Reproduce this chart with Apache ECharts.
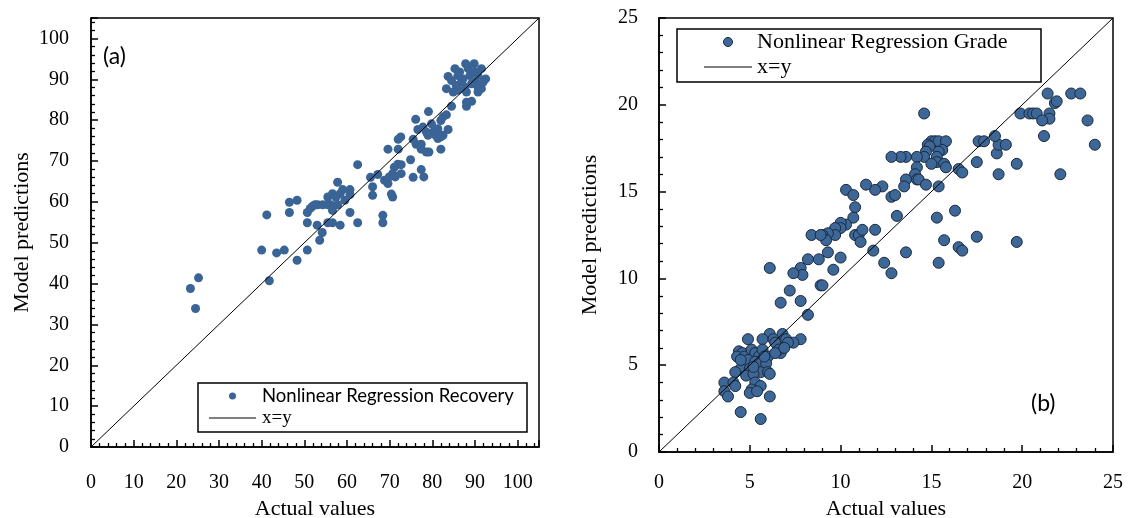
<!DOCTYPE html>
<html>
<head>
<meta charset="utf-8">
<script src="https://cdn.jsdelivr.net/npm/echarts@6/dist/echarts.min.js"></script>
<style>html,body{margin:0;padding:0;background:#fff;}#c{width:1129px;height:518px;}</style>
</head>
<body>
<div id="c"></div>
<script>
// ---- Data: panel (a) Recovery ----
const recoveryActual = [23.3,25.2,24.5,41.8,40.0,43.5,45.3,50.7,48.3,41.2,46.5,48.3,46.5,50.7,50.7,53.0,53.6,54.2,55.5,56.6,58.4,62.5,60.7,51.4,51.9,52.5,53.1,54.3,55.5,56.2,56.6,57.8,55.5,56.6,57.4,57.8,59.0,60.7,60.7,59.5,58.4,62.5,65.5,66.0,66.0,67.2,68.4,68.4,68.8,69.6,70.7,70.4,69.6,72.0,72.0,72.6,71.1,71.9,72.7,72.7,70.7,71.3,69.9,74.9,75.5,75.5,76.1,76.2,77.4,77.4,77.4,78.0,78.6,79.2,79.1,76.6,77.8,78.6,79.8,80.2,80.8,81.3,82.0,82.5,82.0,82.0,82.5,83.3,83.7,84.5,79.0,81.3,88.0,88.0,89.2,83.3,83.7,85.3,86.0,84.9,86.0,86.8,87.8,89.8,88.8,90.0,90.7,91.5,91.5,92.5,90.7,89.2,88.0,87.2,84.5,85.6,88.4,90.0,91.9,90.7,86.4,87.6];
const recoveryPredicted = [38.8,41.4,33.9,40.7,48.2,47.5,48.2,48.2,45.7,56.8,59.9,60.4,57.4,57.4,54.9,54.3,50.6,52.5,54.9,54.9,54.3,54.9,57.4,58.4,58.9,59.3,59.3,59.3,59.3,59.3,57.9,59.3,61.2,62.0,61.2,64.8,63.0,63.0,61.8,60.4,62.0,69.1,66.0,63.7,61.6,66.7,56.7,54.9,65.3,64.5,61.2,61.9,72.9,72.9,75.3,75.9,68.5,69.2,69.1,66.9,66.9,66.1,66.1,70.3,75.3,66.0,80.2,74.1,74.1,72.9,67.9,66.1,72.2,72.2,82.1,77.7,78.3,77.1,79.1,77.1,76.3,77.9,75.9,76.3,72.9,79.9,80.8,81.3,77.7,83.4,76.3,75.5,83.4,84.4,84.6,87.7,90.7,92.6,90.9,86.9,87.3,89.3,93.8,93.8,90.9,89.3,88.1,87.7,92.6,90.1,90.9,88.9,86.9,90.1,89.7,88.5,92.6,91.8,89.3,86.9,91.8,88.1];
// ---- Data: panel (b) Grade ----
const gradeActual = [21.4,22.7,23.2,21.8,21.9,19.9,20.4,20.6,20.8,21.5,21.5,21.1,23.6,21.2,24.0,22.1,19.7,19.7,18.7,18.6,18.7,19.1,18.5,17.6,17.9,17.5,17.5,16.5,16.7,16.3,16.5,16.7,15.7,15.4,15.3,15.4,14.6,15.0,15.2,15.4,15.8,14.8,14.9,15.6,15.4,14.7,14.6,14.2,13.6,13.3,12.8,15.3,15.3,15.0,15.7,15.8,14.2,14.1,14.2,14.3,14.7,13.6,13.5,13.1,12.8,13.0,12.3,11.9,11.4,10.3,10.7,10.8,10.7,10.3,10.0,10.0,9.7,9.7,9.3,9.0,9.2,8.4,8.9,9.3,10.0,9.6,8.8,8.2,7.8,7.9,7.4,6.1,7.2,7.8,6.7,8.9,9.0,8.2,10.8,11.0,11.1,11.2,11.9,11.8,12.4,12.8,13.6,7.8,7.4,6.8,7.0,7.1,6.7,6.7,6.1,6.3,6.4,6.6,5.7,4.9,4.4,4.6,4.3,4.7,5.1,5.3,5.5,5.7,6.0,4.9,5.3,5.6,5.9,4.5,4.2,5.0,5.3,5.6,6.0,6.1,4.8,5.2,3.6,4.1,4.2,3.6,3.8,5.3,5.6,5.1,5.0,5.4,6.1,4.5,5.6,4.5,5.2,5.8,6.4,6.9];
const gradePredicted = [20.65,20.65,20.65,20.1,20.2,19.5,19.5,19.5,19.5,19.5,19.2,19.1,19.1,18.2,17.7,16.0,16.6,12.1,16.0,17.2,17.7,17.7,18.2,17.9,17.9,16.7,12.4,16.3,16.1,13.9,11.8,11.6,12.2,10.9,13.5,15.3,19.5,17.9,17.9,17.9,17.9,17.7,17.6,17.4,17.3,17.3,17.0,17.0,17.0,17.0,17.0,17.0,16.7,16.6,16.6,16.4,16.4,16.0,15.7,15.7,15.4,15.7,15.3,13.6,14.7,14.8,15.3,15.1,15.4,15.1,14.8,14.1,13.5,13.1,13.2,12.9,12.9,12.5,12.6,12.5,12.2,12.5,12.5,11.5,11.2,10.5,11.1,11.1,10.6,10.2,10.3,10.6,9.3,8.7,8.6,9.6,9.6,7.9,12.5,12.5,12.1,12.8,12.8,11.6,10.9,10.3,11.5,6.5,6.3,6.8,6.5,6.3,6.0,5.7,6.8,6.5,6.3,5.9,6.5,6.5,5.8,5.7,5.5,5.5,5.9,5.7,5.5,5.9,5.5,5.3,5.2,5.1,5.1,4.8,4.6,4.8,4.6,4.6,4.6,4.5,4.4,4.5,4.0,4.0,3.8,3.5,3.2,4.0,3.8,3.6,3.4,3.5,3.2,2.3,1.9,5.3,4.9,5.5,5.7,6.0];
const lineA = [0, 105];
const lineB = [0, 25];
const ticksA = {min: 0, max: 105, interval: 10};
const ticksB = {min: 0, max: 25, interval: 5};
const legendA = ['Nonlinear Regression Recovery', 'x=y'];
const legendB = ['Nonlinear Regression Grade', 'x=y'];

const zip = (a, b) => a.map((v, i) => [v, b[i]]);
const SERIF = '"Liberation Serif","Times New Roman",serif';
const SANS = 'Lato,"Open Sans",sans-serif';
const COL_A = '#3A6496';
const COL_B = '#3D6796';

function axis(t, name, gap, labelMargin, gridIndex, minorSplit) {
  return {
    type: 'value', gridIndex, min: t.min, max: t.max, interval: t.interval,
    name, nameLocation: 'middle', nameGap: gap,
    nameTextStyle: {fontFamily: SERIF, fontSize: 22, color: '#000'},
    axisLine: {show: true, onZero: false, lineStyle: {color: '#000', width: 1.5}},
    axisTick: {show: true, inside: true, length: 7, lineStyle: {color: '#000', width: 1.5}},
    minorTick: {show: true, splitNumber: minorSplit, length: 4, lineStyle: {color: '#000', width: 1.3}},
    axisLabel: {fontFamily: SERIF, fontSize: 20, color: '#000', margin: labelMargin, showMaxLabel: t.max % t.interval === 0},
    splitLine: {show: false}
  };
}

function legendBox(x, y, w, h, rows, dotR, dotStroke, dotColor, font1, size1, lineX0, lineX1, textX) {
  return {
    type: 'group', z: 100,
    children: [
      {type: 'rect', shape: {x, y, width: w, height: h}, style: {fill: '#fff', stroke: '#000', lineWidth: 1.5}},
      {type: 'circle', shape: {cx: (lineX0 + lineX1) / 2, cy: rows[0], r: dotR}, style: {fill: dotColor, stroke: dotStroke, lineWidth: dotStroke ? 1 : 0}},
      {type: 'text', x: textX, y: rows[0], style: {text: rows[2], fontFamily: font1, fontSize: size1, fill: '#000', verticalAlign: 'middle', align: 'left'}},
      {type: 'line', shape: {x1: lineX0, y1: rows[1], x2: lineX1, y2: rows[1]}, style: {stroke: '#000', lineWidth: 1}},
      {type: 'text', x: textX, y: rows[1], style: {text: rows[3], fontFamily: SERIF, fontSize: rows[4], fill: '#000', verticalAlign: 'middle', align: 'left'}}
    ]
  };
}

const chart = echarts.init(document.getElementById('c'));
chart.setOption({
  animation: false,
  backgroundColor: '#fff',
  grid: [
    {left: 91, top: 18, width: 448, height: 429, show: true, borderColor: '#000', borderWidth: 1.5, outerBoundsMode: 'none', containLabel: false},
    {left: 659, top: 18, width: 454, height: 434, show: true, borderColor: '#000', borderWidth: 1.5, outerBoundsMode: 'none', containLabel: false}
  ],
  xAxis: [
    axis(ticksA, 'Actual values', 50, 26, 0, 5),
    axis(ticksB, 'Actual values', 45, 21, 1, 5)
  ],
  yAxis: [
    axis(ticksA, 'Model predictions', 58, 22, 0, 5),
    axis(ticksB, 'Model predictions', 58, 21, 1, 5)
  ],
  graphic: [
    {type: 'text', left: 103, top: 45, style: {text: '(a)', fontFamily: SANS, fontSize: 23, fill: '#000'}},
    {type: 'text', left: 1031, top: 392, style: {text: '(b)', fontFamily: SANS, fontSize: 23, fill: '#000'}},
    legendBox(198, 383, 329, 49, [396, 418, legendA[0], legendA[1], 19], 3.5, null, COL_A, SANS, 18.5, 209, 256, 262),
    legendBox(677, 29, 364, 53, [42, 67, legendB[0], legendB[1], 22], 4.5, '#1A2A40', COL_B, SERIF, 22, 704, 752, 757)
  ],
  series: [
    {
      name: 'x=y', type: 'line', xAxisIndex: 0, yAxisIndex: 0,
      data: zip(lineA, lineA), showSymbol: false, symbol: 'none',
      lineStyle: {color: '#000', width: 1}, z: 3
    },
    {
      name: legendA[0], type: 'scatter', xAxisIndex: 0, yAxisIndex: 0,
      data: zip(recoveryActual, recoveryPredicted), symbolSize: 9,
      itemStyle: {color: COL_A, opacity: 1}, z: 2
    },
    {
      name: 'x=y (b)', type: 'line', xAxisIndex: 1, yAxisIndex: 1,
      data: zip(lineB, lineB), showSymbol: false, symbol: 'none',
      lineStyle: {color: '#000', width: 1}, z: 3
    },
    {
      name: legendB[0], type: 'scatter', xAxisIndex: 1, yAxisIndex: 1,
      data: zip(gradeActual, gradePredicted), symbolSize: 11,
      itemStyle: {color: COL_B, borderColor: '#1A2A40', borderWidth: 1, opacity: 1}, z: 2
    }
  ]
});
</script>
</body>
</html>
